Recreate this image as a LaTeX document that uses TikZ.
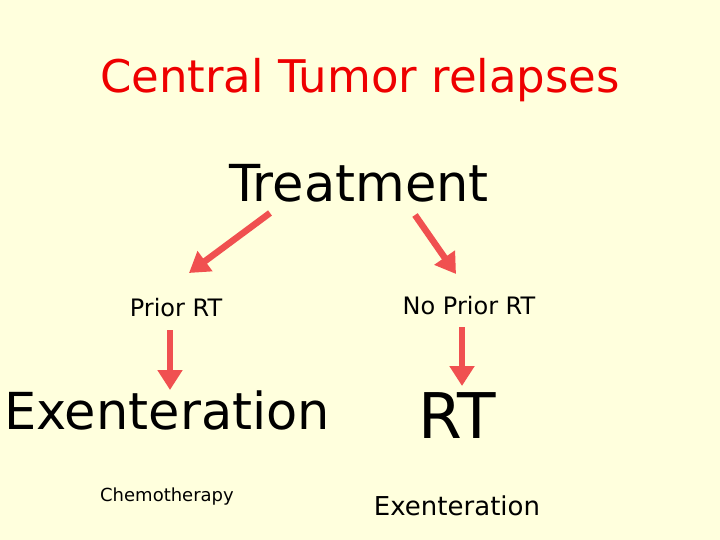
\documentclass[tikz,border=0pt]{standalone}
\usepackage{fontspec}
\setmainfont{DejaVu Sans}
\usetikzlibrary{arrows.meta}
\definecolor{slidebg}{RGB}{255,255,221}
\definecolor{titlered}{RGB}{238,0,0}
\definecolor{arrowred}{RGB}{240,80,80}
\tikzset{
  redarrow/.style={line width=6.5pt, arrowred, -{Triangle[width=24pt,length=20pt]}},
}
\begin{document}
\begin{tikzpicture}[x=1pt,y=-1pt]
        \fill[slidebg] (0,0) rectangle (720,540);
        \useasboundingbox (0,0) rectangle (720,540);
        \node[titlered, font=\fontsize{45}{52}\selectfont] (title) at (360,80) {Central Tumor relapses};
        \node[font=\fontsize{51}{58}\selectfont] (treat) at (359,183) {Treatment};
        \node[font=\fontsize{24}{28}\selectfont] (prior) at (176,308) {Prior RT};
        \node[font=\fontsize{24}{28}\selectfont] (noprior) at (469,306) {No Prior RT};
        \node[font=\fontsize{51}{58}\selectfont] (exent) at (167,410) {Exenteration};
        \node[font=\fontsize{63}{70}\selectfont] (rt) at (457,416) {RT};
        \node[font=\fontsize{18}{22}\selectfont] (chemo) at (167,497) {Chemotherapy};
        \node[font=\fontsize{26}{30}\selectfont] (exent2) at (457,506) {Exenteration};
        \coordinate (tl) at (270,213);
        \coordinate (tr) at (415,215);
        \draw[redarrow] (tl) -- (189,273);
        \draw[redarrow] (tr) -- (456,274);
        \draw[redarrow] (170,330) -- (170,390);
        \draw[redarrow] (462,327) -- (462,386);
    \end{tikzpicture}
\end{document}
